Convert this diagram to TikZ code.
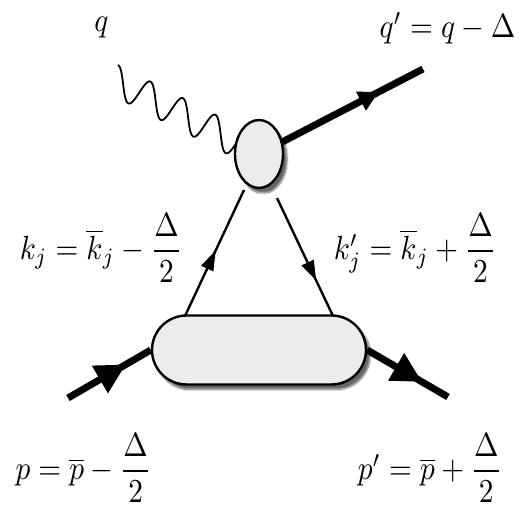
\documentclass[tikz,border=0pt]{standalone}
\usepackage{amsmath}
\usetikzlibrary{shapes.geometric,shapes.misc,decorations.markings,arrows.meta,shadows.blur,backgrounds}
\tikzset{
  lbl/.style={xscale=2.93, yscale=3.35, inner sep=0pt, anchor=base},
  fermion/.style={line width=7pt, postaction={decorate},
    decoration={markings, mark=at position #1 with {\arrow{Triangle[length=30pt,width=30pt]}}}},
  fermion/.default=0.5,
  fermionsmall/.style={line width=7pt, postaction={decorate},
    decoration={markings, mark=at position #1 with {\arrow{Triangle[length=20pt,width=20pt]}}}},
  fermionsmall/.default=0.5,
  quark/.style={line width=2.4pt, postaction={decorate},
    decoration={markings, mark=at position #1 with {\arrow{Triangle[length=20pt,width=13pt]}}}},
  quark/.default=0.5,
  photon/.style={line width=1.8pt, line join=round},
  blobshape/.style={draw, line width=2.4pt, fill=gray!15,
    blur shadow={shadow xshift=4pt, shadow yshift=-5pt, shadow blur steps=8, shadow opacity=60, shadow blur extra rounding=2pt}},
}
\begin{document}
\begin{tikzpicture}[x=1pt,y=-1pt]
\useasboundingbox (0,0) rectangle (519,510);
% coordinates of free ends
\coordinate (qin) at (118,65);
\coordinate (qout) at (423,69);
\coordinate (pin) at (68,398);
\coordinate (pout) at (448,397);
\coordinate (kl1) at (185,316);
\coordinate (kl2) at (244,190);
\coordinate (kr1) at (277,198);
\coordinate (kr2) at (333,316);
% blobs
\node[blobshape, ellipse, minimum width=48pt, minimum height=68pt, inner sep=0pt] (ell) at (259,154) {};
\node[blobshape, rounded rectangle, minimum width=214pt, minimum height=69pt, inner sep=0pt] (blob) at (259,350) {};
% lines underneath
\begin{pgfonlayer}{background}
\draw[photon] plot[domain=0:142, samples=220, smooth, variable=\s]
  ({118+0.89*\s-3*(1-cos(9.863*\s))}, {65+0.455*\s+15*(1-cos(9.863*\s))});
\draw[fermionsmall=0.73] (ell.center) -- (qout);
\draw[fermion=0.70] (pin) -- (blob.west);
\draw[fermion=0.68] (blob.east) -- (pout);
\draw[quark=0.52] (kl1) -- (kl2);
\draw[quark=0.70] (kr1) -- (kr2);
\end{pgfonlayer}
% labels
\node[lbl] (lq) at (101.5,31.5) {$q$};
\node[lbl] (lqp) at (447.5,38) {$q'=q-\Delta$};
\node[lbl] (lk) at (101,259.4) {$k_j=\overline{k}_j-\dfrac{\Delta}{2}$};
\node[lbl] (lkp) at (415,259.4) {$k'_j=\overline{k}_j+\dfrac{\Delta}{2}$};
\node[lbl] (lp) at (83.5,479.4) {$p=\overline{p}-\dfrac{\Delta}{2}$};
\node[lbl] (lpp) at (430,479.4) {$p'=\overline{p}+\dfrac{\Delta}{2}$};
\end{tikzpicture}
\end{document}
